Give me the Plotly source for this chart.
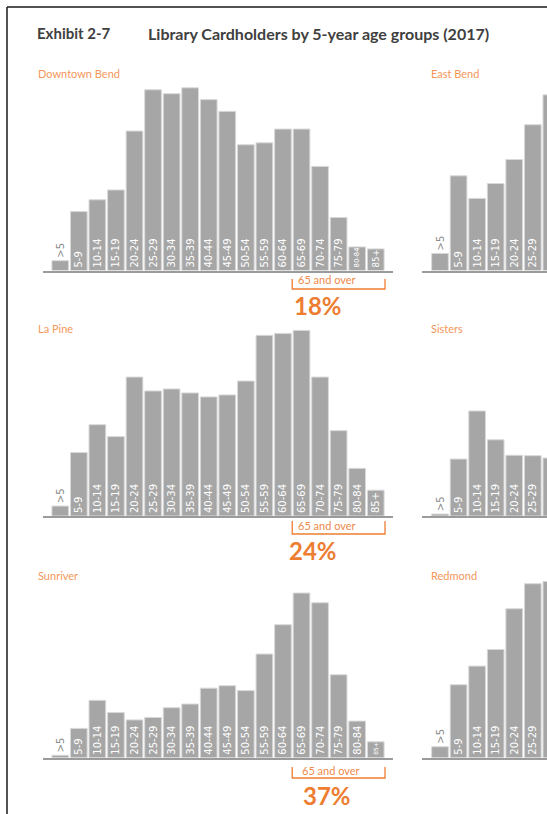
import plotly.graph_objects as go

W, H = 547, 814
FONT = "Lato, 'Noto Sans', sans-serif"
LABEL_FONT = "'DejaVu Sans', sans-serif"
ORANGE = "#ED7D31"
BAR = "#a6a6a6"

# ---------------- data ----------------
age_groups = [">5", "5-9", "10-14", "15-19", "20-24", "25-29", "30-34", "35-39",
              "40-44", "45-49", "50-54", "55-59", "60-64", "65-69", "70-74",
              "75-79", "80-84", "85+"]

# share of cardholders (%) by age group
downtown_bend = [0.5, 3.0, 3.6, 4.1, 7.1, 9.2, 9.0, 9.3, 8.7, 8.1, 6.4, 6.5, 7.2, 7.2, 5.3, 2.7, 1.2, 1.1]
la_pine = [0.5, 3.2, 4.6, 4.0, 7.0, 6.3, 6.4, 6.2, 6.0, 6.1, 6.8, 9.1, 9.2, 9.35, 7.0, 4.3, 2.4, 1.3]
sunriver = [0.2, 2.4, 4.7, 3.7, 3.1, 3.3, 4.1, 4.4, 5.7, 5.9, 5.5, 8.5, 10.9, 13.5, 12.7, 6.8, 3.0, 1.3]

# right-hand panels: only the first groups are visible in the picture
east_bend = [0.87, 4.82, 3.67, 4.43, 5.65, 7.42, 8.94]
sisters = [0.10, 2.87, 5.29, 3.84, 3.06, 3.04, 2.92]
redmond = [0.90, 5.98, 7.51, 8.87, 12.21, 14.26, 14.45]

left_names = ["Downtown Bend", "La Pine", "Sunriver"]
right_names = ["East Bend", "Sisters", "Redmond"]
share_65_over = ["18%", "24%", "37%"]

# ---------------- layout helpers ----------------
def fx(px):
    return px / W

def fy(py):
    return 1 - py / H

# per row: baseline pixel, pixel per unit, y max
rows = [
    dict(base=270.5, ppu=19.645, ymax=9.5, title_y=73, lab_y=280, pct_y=305, br=(279, 289), lab_x=296, pct_x=318),
    dict(base=516.0, ppu=19.85, ymax=9.5, title_y=329, lab_y=525, pct_y=550, br=(521, 534), lab_x=296, pct_x=313),
    dict(base=757.7, ppu=12.2, ymax=15.0, title_y=575, lab_y=770, pct_y=795, br=(767, 778), lab_x=300, pct_x=327),
]

LEFT_DOM = (43, 393)
LEFT_RANGE = [-0.93, 17.93]
RIGHT_DOM = (422, 547)
RIGHT_RANGE = [-0.97, 5.765]
LABEL_SIZE = 10
# approximate glyph advance (in em) of the label font
GLYPH_EM = {"-": 0.361, "+": 0.838, ">": 0.838}


def label_size(label, value, ppu):
    # shrink a label so that it fits inside its bar
    em_len = sum(GLYPH_EM.get(ch, 0.636) for ch in label)
    avail = value * ppu - 3.5
    return max(5.5, min(LABEL_SIZE, avail / em_len))


fig = go.Figure()
layout = dict(
    width=W, height=H,
    margin=dict(l=0, r=0, t=0, b=0),
    paper_bgcolor="white", plot_bgcolor="white",
    showlegend=False, bargap=0.1,
    font=dict(family=FONT),
)
annotations = []
shapes = []


def add_panel(idx, values, row, left, name):
    n = len(values)
    cats = age_groups[:n]
    rng = LEFT_RANGE if left else RIGHT_RANGE
    texts = [c if k <= rng[1] else "" for k, c in enumerate(cats)]
    tpos = ["outside" if k == 0 else "inside" for k in range(n)]
    tcol = ["#8a8a8a" if k == 0 else "white" for k in range(n)]
    tsize = [LABEL_SIZE if k == 0 else label_size(cats[k], values[k], row["ppu"]) for k in range(n)]
    fig.add_trace(go.Bar(
        x=cats, y=values,
        xaxis=f"x{idx}", yaxis=f"y{idx}",
        marker=dict(color=BAR, line=dict(color="#d9d9d9", width=1)),
        text=texts, textposition=tpos, textangle=-90,
        insidetextanchor="start", constraintext="none",
        textfont=dict(size=tsize, color=tcol, family=LABEL_FONT),
        hoverinfo="x+y",
    ))
    top = row["base"] - row["ymax"] * row["ppu"]
    dom = LEFT_DOM if left else RIGHT_DOM
    sfx = "" if idx == 1 else str(idx)
    layout[f"xaxis{sfx}"] = dict(
        domain=[fx(dom[0]), fx(dom[1])], range=rng, type="category",
        anchor=f"y{idx}", showline=True, linecolor="#9b9b9b", linewidth=1.5,
        showgrid=False, zeroline=False, showticklabels=False, ticks="",
        fixedrange=True,
    )
    layout[f"yaxis{sfx}"] = dict(
        domain=[fy(row["base"]), fy(top)], range=[0, row["ymax"]],
        anchor=f"x{idx}", visible=False, showgrid=False, zeroline=False,
        fixedrange=True,
    )
    annotations.append(dict(
        x=fx(36 if left else 429), y=fy(row["title_y"]), xref="paper", yref="paper",
        xanchor="left", yanchor="middle", showarrow=False, text=name,
        font=dict(size=11, color="#F4975A", family=FONT),
    ))


left_vals = [downtown_bend, la_pine, sunriver]
right_vals = [east_bend, sisters, redmond]

for r in range(3):
    li = 2 * r + 1
    ri = 2 * r + 2
    row = rows[r]
    add_panel(li, left_vals[r], row, True, left_names[r])
    add_panel(ri, right_vals[r], row, False, right_names[r])

    # bracket over 65+ groups
    x0 = age_groups.index("65-69") - 0.5
    x1 = len(age_groups) - 1 + 0.5
    xr = "x" if li == 1 else f"x{li}"
    yt, yb = fy(row["br"][0]), fy(row["br"][1])
    shapes.append(dict(
        type="path", xref=xr, yref="paper",
        path=f"M {x0},{yt} L {x0},{yb} L {x1},{yb} L {x1},{yt}",
        line=dict(color=ORANGE, width=1.3),
    ))
    annotations.append(dict(
        x=fx(row["lab_x"]), y=fy(row["lab_y"]), xref="paper", yref="paper",
        xanchor="left", yanchor="middle", showarrow=False, text="65 and over",
        font=dict(size=11, color="#F08A4B", family=FONT),
    ))
    annotations.append(dict(
        x=fx(row["pct_x"]), y=fy(row["pct_y"]), xref="paper", yref="paper",
        xanchor="center", yanchor="middle", showarrow=False,
        text=f"<b>{share_65_over[r]}</b>",
        font=dict(size=24, color=ORANGE, family=FONT),
    ))

# heading
annotations.append(dict(
    x=fx(35), y=fy(33), xref="paper", yref="paper", xanchor="left", yanchor="middle",
    showarrow=False, text="<b>Exhibit 2-7</b>",
    font=dict(size=15, color="#404040", family=FONT),
))
annotations.append(dict(
    x=fx(146), y=fy(33), xref="paper", yref="paper", xanchor="left", yanchor="middle",
    showarrow=False, text="<b>Library Cardholders by 5-year age groups (2017)</b>",
    font=dict(size=16, color="#404040", family=FONT),
))

# frame lines
shapes.append(dict(type="line", xref="paper", yref="paper", x0=fx(7), x1=1, y0=fy(7), y1=fy(7),
                   line=dict(color="#1a1a1a", width=1.5)))
shapes.append(dict(type="line", xref="paper", yref="paper", x0=fx(7), x1=fx(7), y0=fy(7), y1=0,
                   line=dict(color="#1a1a1a", width=1.5)))

layout["annotations"] = annotations
layout["shapes"] = shapes
fig.update_layout(**layout)
fig.write_html(
    "out.html",
    config={"displayModeBar": False},
    post_script="document.body.style.margin='0';document.body.style.overflow='hidden';",
)
